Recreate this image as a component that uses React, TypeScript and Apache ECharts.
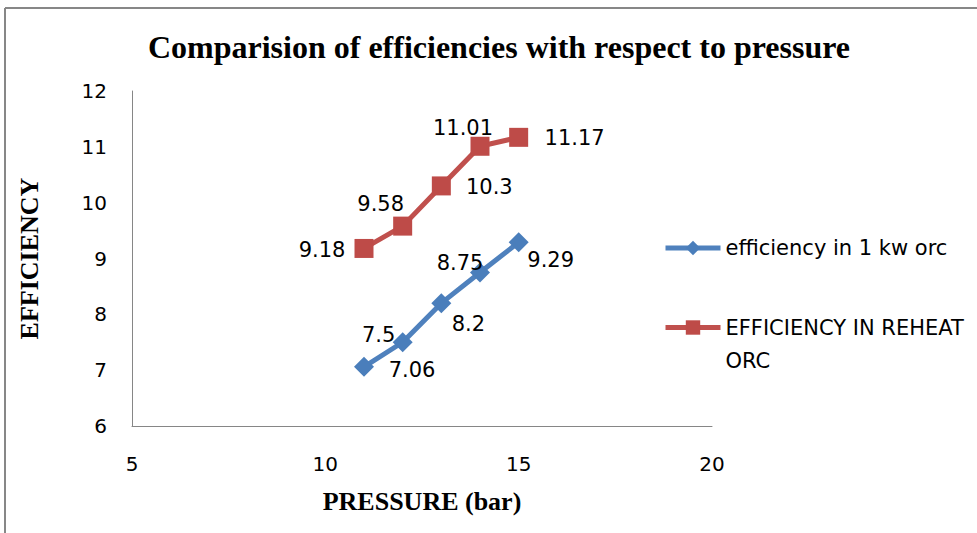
import React, { useEffect, useRef } from "react";
import * as echarts from "echarts";

const pressure = [11, 12, 13, 14, 15];
const efficiency1kw = [7.06, 7.5, 8.2, 8.75, 9.29];
const efficiencyReheat = [9.18, 9.58, 10.3, 11.01, 11.17];
const seriesNames = ["efficiency in 1 kw orc", "EFFICIENCY IN REHEAT ORC"];
const titleText = "Comparision of efficiencies with respect to pressure";
const xName = "PRESSURE (bar)";
const yName = "EFFICIENCY";

// label placement (style, not data)
const labelOffsets1 = [[48, 3], [-24, -7], [27, 21], [-20, -9], [32, 18]];
const labelOffsets2 = [[-42, 2], [-22, -22], [48, 1], [-17, -18], [56, 1]];

const SANS = "DejaVu Sans";
const SERIF = "Liberation Serif";

export default function App() {
  const ref = useRef<HTMLDivElement>(null);
  useEffect(() => {
    if (!ref.current) return;
    const chart = echarts.init(ref.current, undefined, { renderer: "svg" });
    const mk = (vals: number[], offs: number[][]) =>
      pressure.map((p, i) => ({ value: [p, vals[i]], label: { offset: offs[i] } }));
    chart.setOption({
      animation: false,
      backgroundColor: "#ffffff",
      title: {
        text: titleText,
        left: 494,
        top: 26,
        textAlign: "center",
        textStyle: { fontFamily: SERIF, fontWeight: "bold", fontSize: 32, color: "#000" },
      },
      graphic: [
        { type: "line", shape: { x1: 5, y1: 8, x2: 977, y2: 8 }, style: { stroke: "#878787", lineWidth: 2 } },
        { type: "line", shape: { x1: 5, y1: 8, x2: 5, y2: 533 }, style: { stroke: "#878787", lineWidth: 2 } },
      ],
      grid: { left: 132, right: 265, top: 91, bottom: 107, containLabel: false },
      legend: {
        orient: "vertical",
        left: 658,
        top: 231,
        itemWidth: 55,
        itemHeight: 18,
        itemGap: 18,
        lineStyle: { width: 5 },
        textStyle: { fontFamily: SANS, fontSize: 21, color: "#000", lineHeight: 24 },
        data: [
          { name: seriesNames[0] },
          { name: seriesNames[1], textStyle: { lineHeight: 33 } },
        ],
        formatter: (n: string) => (n === seriesNames[1] ? "\nEFFICIENCY IN REHEAT\nORC" : n),
      },
      xAxis: {
        type: "value",
        min: 5,
        max: 20,
        interval: 5,
        name: xName,
        nameLocation: "middle",
        nameGap: 62,
        nameTextStyle: { fontFamily: SERIF, fontWeight: "bold", fontSize: 26, color: "#000" },
        axisLine: { show: true, lineStyle: { color: "#868686", width: 1 } },
        axisTick: { show: false },
        splitLine: { show: false },
        axisLabel: { fontFamily: SANS, fontSize: 20, color: "#000", margin: 28 },
      },
      yAxis: {
        type: "value",
        min: 6,
        max: 12,
        interval: 1,
        name: yName,
        nameLocation: "middle",
        nameGap: 90,
        nameTextStyle: { fontFamily: SERIF, fontWeight: "bold", fontSize: 26, color: "#000" },
        axisLine: { show: true, lineStyle: { color: "#868686", width: 1 } },
        axisTick: { show: false },
        splitLine: { show: false },
        axisLabel: { fontFamily: SANS, fontSize: 20, color: "#000", margin: 25 },
      },
      series: [
        {
          name: seriesNames[0],
          type: "line",
          data: mk(efficiency1kw, labelOffsets1),
          symbol: "diamond",
          symbolSize: 20,
          color: "#4F81BD",
          lineStyle: { width: 5, color: "#4F81BD" },
          itemStyle: { color: "#4A7EBB" },
          label: { show: true, position: "inside", fontFamily: SANS, fontSize: 21, color: "#000" },
        },
        {
          name: seriesNames[1],
          type: "line",
          data: mk(efficiencyReheat, labelOffsets2),
          symbol: "rect",
          symbolSize: 19,
          color: "#C0504D",
          lineStyle: { width: 5, color: "#C0504D" },
          itemStyle: { color: "#BE4B48" },
          label: { show: true, position: "inside", fontFamily: SANS, fontSize: 21, color: "#000" },
        },
      ],
    });
    return () => chart.dispose();
  }, []);
  return (
    <div
      ref={ref}
      style={{ position: "fixed", left: 0, top: 0, width: 977, height: 533, background: "#fff" }}
    />
  );
}
